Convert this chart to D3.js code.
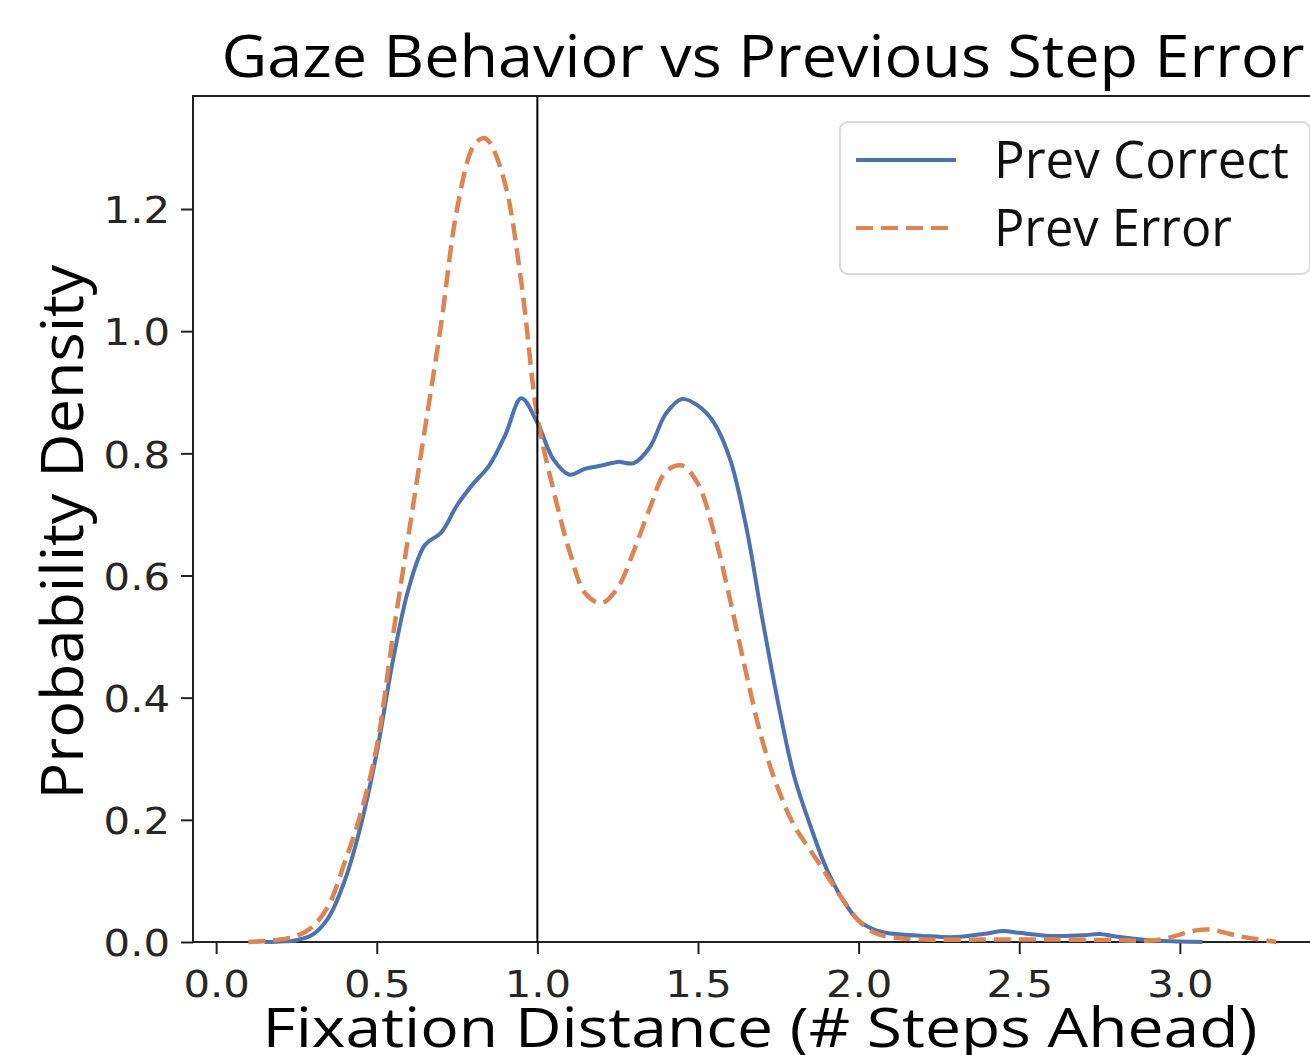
<!DOCTYPE html>
<html>
<head>
<meta charset="utf-8">
<script src="https://cdn.jsdelivr.net/npm/d3@7"></script>
<style>
  body { margin: 0; background: #fff; }
  svg { display: block; }
</style>
</head>
<body>
<div id="chart"></div>
<script>
// KDE curves (x = steps ahead, y = density)
const correctX = [0.15, 0.2, 0.25, 0.3, 0.35, 0.4, 0.45, 0.5, 0.55, 0.6, 0.65, 0.7, 0.75, 0.8, 0.85, 0.9, 0.95, 1.0, 1.05, 1.1, 1.15, 1.2, 1.25, 1.3, 1.35, 1.4, 1.45, 1.5, 1.55, 1.6, 1.65, 1.7, 1.75, 1.8, 1.85, 1.9, 1.95, 2.0, 2.05, 2.1, 2.2, 2.3, 2.4, 2.45, 2.5, 2.6, 2.7, 2.75, 2.8, 2.9, 3.0, 3.07]
const correctY = [0.0, 0.001, 0.003, 0.012, 0.04, 0.10, 0.19, 0.31, 0.46, 0.58, 0.65, 0.67, 0.715, 0.75, 0.78, 0.83, 0.89, 0.85, 0.79, 0.765, 0.775, 0.78, 0.786, 0.784, 0.81, 0.865, 0.889, 0.878, 0.85, 0.79, 0.68, 0.53, 0.39, 0.27, 0.19, 0.12, 0.07, 0.035, 0.02, 0.014, 0.01, 0.008, 0.014, 0.018, 0.015, 0.01, 0.011, 0.013, 0.009, 0.003, 0.001, 0.0]

const errorX = [0.1, 0.2, 0.25, 0.3, 0.35, 0.4, 0.45, 0.5, 0.55, 0.6, 0.65, 0.7, 0.75, 0.8, 0.83, 0.85, 0.9, 0.95, 1.0, 1.05, 1.1, 1.15, 1.2, 1.25, 1.3, 1.35, 1.4, 1.45, 1.5, 1.55, 1.6, 1.65, 1.7, 1.75, 1.8, 1.85, 1.9, 1.95, 2.0, 2.05, 2.1, 2.2, 2.4, 2.6, 2.8, 2.9, 2.95, 3.0, 3.05, 3.1, 3.15, 3.2, 3.25, 3.3]
const errorY = [0.0, 0.004, 0.01, 0.025, 0.06, 0.13, 0.21, 0.32, 0.5, 0.67, 0.84, 1.01, 1.2, 1.302, 1.316, 1.31, 1.24, 1.08, 0.86, 0.74, 0.64, 0.57, 0.555, 0.58, 0.64, 0.71, 0.77, 0.78, 0.75, 0.67, 0.56, 0.44, 0.33, 0.25, 0.19, 0.15, 0.11, 0.07, 0.035, 0.015, 0.008, 0.004, 0.004, 0.004, 0.003, 0.002, 0.005, 0.012, 0.019, 0.02, 0.014, 0.008, 0.004, 0.0]

const xTicks = [0.0, 0.5, 1.0, 1.5, 2.0, 2.5, 3.0]
const yTicks = [0.0, 0.2, 0.4, 0.6, 0.8, 1.0, 1.2]
const seriesNames = ['Prev Correct', 'Prev Error']
const seriesColors = ['#4c72b0', '#dd8452']
const refLine = 1.0

const W = 1310, H = 1055
const plotLeft = 193, plotRight = 1318, plotTop = 96, plotBottom = 942
const labelFont = '"Open Sans", "Noto Sans", sans-serif'
const tickFont = '"DejaVu Sans", sans-serif'
// the source image is a bit wider than tall, so glyphs get stretched sideways
const stretch = 1.1

const svg = d3.select('#chart').append('svg')
  .attr('width', W)
  .attr('height', H)

const x = d3.scaleLinear().domain([-0.072, 3.43]).range([plotLeft, plotRight])
const y = d3.scaleLinear().domain([0, 1.385]).range([plotBottom, plotTop])

function widen(sel, k) {
  sel.each(function() {
    const w = this.getComputedTextLength()
    d3.select(this).attr('textLength', w * k).attr('lengthAdjust', 'spacingAndGlyphs')
  })
}

// axes
const xAxis = svg.append('g')
  .attr('transform', `translate(0,${plotBottom})`)
  .call(d3.axisBottom(x).tickValues(xTicks).tickFormat(d3.format('.1f')).tickSize(12).tickPadding(9))
const yAxis = svg.append('g')
  .attr('transform', `translate(${plotLeft},0)`)
  .call(d3.axisLeft(y).tickValues(yTicks).tickFormat(d3.format('.1f')).tickSize(12).tickPadding(11))

;[xAxis, yAxis].forEach(a => {
  a.select('.domain').remove()
  a.selectAll('line').attr('stroke', '#222').attr('stroke-width', 2)
  a.selectAll('text')
    .attr('fill', '#262626')
    .style('font-family', tickFont)
    .style('font-size', '38px')
    .call(widen, stretch)
})
xAxis.selectAll('text').attr('dy', '0.9em')
yAxis.selectAll('text').attr('dy', '0.36em')

// frame (right side runs off the picture)
svg.append('path')
  .attr('d', `M${plotRight},${plotTop}H${plotLeft}V${plotBottom}H${plotRight}`)
  .attr('fill', 'none')
  .attr('stroke', '#222')
  .attr('stroke-width', 2)

// curves
const line = d3.line()
  .x(d => x(d[0]))
  .y(d => y(d[1]))
  .curve(d3.curveCatmullRom.alpha(0.5))

svg.append('path')
  .datum(d3.zip(correctX, correctY))
  .attr('d', line)
  .attr('fill', 'none')
  .attr('stroke', seriesColors[0])
  .attr('stroke-width', 4)

svg.append('path')
  .datum(d3.zip(errorX, errorY))
  .attr('d', line)
  .attr('fill', 'none')
  .attr('stroke', seriesColors[1])
  .attr('stroke-width', 4.5)
  .attr('stroke-dasharray', '17,8')

// vertical reference at 1 step
svg.append('line')
  .attr('x1', x(refLine)).attr('x2', x(refLine))
  .attr('y1', plotTop).attr('y2', plotBottom)
  .attr('stroke', '#000')
  .attr('stroke-width', 2)

// legend
const lg = svg.append('g').attr('transform', 'translate(840,122)')
lg.append('rect')
  .attr('width', 470).attr('height', 152)
  .attr('rx', 8)
  .attr('fill', '#fff')
  .attr('fill-opacity', 0.85)
  .attr('stroke', '#d9d9d9')
  .attr('stroke-width', 2)

const legendWidths = [295, 238]
seriesNames.forEach((name, i) => {
  const cy = 38 + i * 68
  lg.append('line')
    .attr('x1', 16).attr('x2', 116)
    .attr('y1', cy).attr('y2', cy)
    .attr('stroke', seriesColors[i])
    .attr('stroke-width', 4)
    .attr('stroke-dasharray', i === 1 ? '17,8' : null)
  lg.append('text')
    .attr('x', 154).attr('y', cy + 18)
    .style('font-family', labelFont)
    .style('font-size', '51px')
    .attr('fill', '#111')
    .attr('textLength', legendWidths[i])
    .attr('lengthAdjust', 'spacingAndGlyphs')
    .text(name)
})

// titles
svg.append('text')
  .attr('x', 763).attr('y', 77)
  .attr('text-anchor', 'middle')
  .style('font-family', labelFont)
  .style('font-size', '58px')
  .attr('textLength', 1083)
  .attr('lengthAdjust', 'spacingAndGlyphs')
  .text('Gaze Behavior vs Previous Step Error')

svg.append('text')
  .attr('x', 760).attr('y', 1047)
  .attr('text-anchor', 'middle')
  .style('font-family', labelFont)
  .style('font-size', '55px')
  .attr('textLength', 995)
  .attr('lengthAdjust', 'spacingAndGlyphs')
  .text('Fixation Distance (# Steps Ahead)')

svg.append('text')
  .attr('transform', 'translate(83,532) rotate(-90)')
  .attr('text-anchor', 'middle')
  .style('font-family', labelFont)
  .style('font-size', '58px')
  .attr('textLength', 535)
  .attr('lengthAdjust', 'spacingAndGlyphs')
  .text('Probability Density')
</script>
</body>
</html>
